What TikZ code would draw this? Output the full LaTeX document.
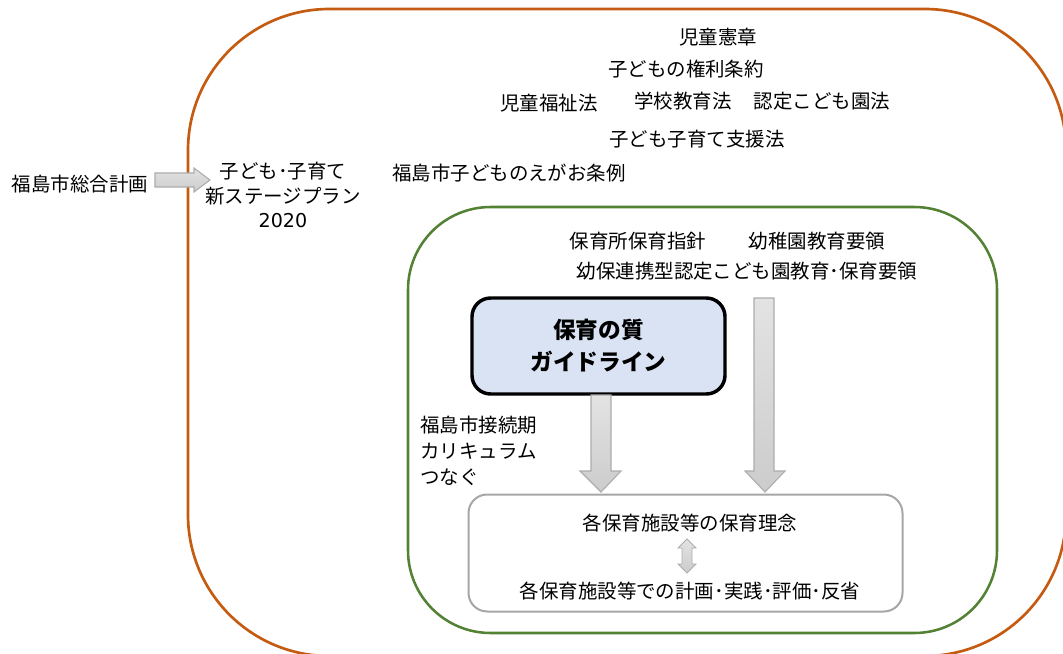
\documentclass[tikz,border=0pt]{standalone}
\usepackage{fontspec}
\setmainfont{Noto Sans CJK JP}
\newfontfamily\latn{DejaVu Sans}
\begin{document}
\begin{tikzpicture}[x=0.75pt,y=-0.75pt,
  txt/.style={font=\fontsize{14.6}{18}\selectfont, inner sep=0pt},
  blk/.style={draw=gray!65, line width=0.8pt, top color=gray!22, bottom color=gray!40},
]
\useasboundingbox (0,0) rectangle (1063,653);
\clip (0,0) rectangle (1063,653);
% outer orange box
\draw[draw={rgb,255:red,197;green,90;blue,17}, line width=2pt, rounded corners=106] (188,9) rectangle (1066,656);
% inner green box
\draw[draw={rgb,255:red,84;green,130;blue,53}, line width=1.9pt, rounded corners=62] (408,207) rectangle (997,633);
% guideline box
\node[draw=black, line width=2.6pt, fill={rgb,255:red,218;green,227;blue,243}, rounded corners=14, minimum width=253*0.75pt, minimum height=96*0.75pt, align=center, font=\fontsize{17}{24}\selectfont\bfseries, inner sep=0pt] (gl) at (598.5,346) {保育の質\\ガイドライン};
% bottom box
\node[draw={rgb,255:red,166;green,166;blue,166}, line width=1.5pt, rounded corners=14, minimum width=434*0.75pt, minimum height=117*0.75pt, inner sep=0pt] (bb) at (685.5,553) {};

% texts
\node[txt] (t1) at (718,37) {児童憲章};
\node[txt] (t2) at (686,69) {子どもの権利条約};
\node[txt] (t3) at (549,103) {児童福祉法};
\node[txt] (t4) at (683,101) {学校教育法};
\node[txt] (t5) at (822,101) {認定こども園法};
\node[txt] (t6) at (697,139) {子ども子育て支援法};
\node[txt] (t7) at (509,173) {福島市子どものえがお条例};
\node[txt] (s1) at (80,184) {福島市総合計画};
\node[txt, align=center, font=\fontsize{14.6}{18.6}\selectfont] (s2) at (283,195) {子ども･子育て\\新ステージプラン\\{\latn\fontsize{14.3}{18.6}\selectfont 2020}};
\node[txt] (g1) at (638,241) {保育所保育指針};
\node[txt] (g2) at (817,241) {幼稚園教育要領};
\node[txt] (g3) at (747,271) {幼保連携型認定こども園教育･保育要領};
\node[txt, align=left, anchor=west, font=\fontsize{14.6}{19.5}\selectfont] (k) at (420,451) {福島市接続期\\カリキュラム\\つなぐ};
\node[txt] (b1) at (690,523) {各保育施設等の保育理念};
\node[txt] (b2) at (690,591) {各保育施設等での計画･実践･評価･反省};

% left arrow
\draw[blk] (155,173) -- (194,173) -- (194,168) -- (210,180) -- (194,192) -- (194,187) -- (155,187) -- cycle;
% down arrow from guideline
\draw[blk] (591,395) -- (611,395) -- (611,471) -- (621,471) -- (601,492) -- (580,471) -- (591,471) -- cycle;
% long down arrow
\draw[blk] (754,298) -- (774,298) -- (774,471) -- (785,471) -- (765,492) -- (745,471) -- (754,471) -- cycle;
% double arrow
\draw[blk, line width=0.6pt] (687,539) -- (696,548) -- (692,548) -- (692,564) -- (696,564) -- (687,573) -- (678,564) -- (682,564) -- (682,548) -- (678,548) -- cycle;
\end{tikzpicture}
\end{document}
